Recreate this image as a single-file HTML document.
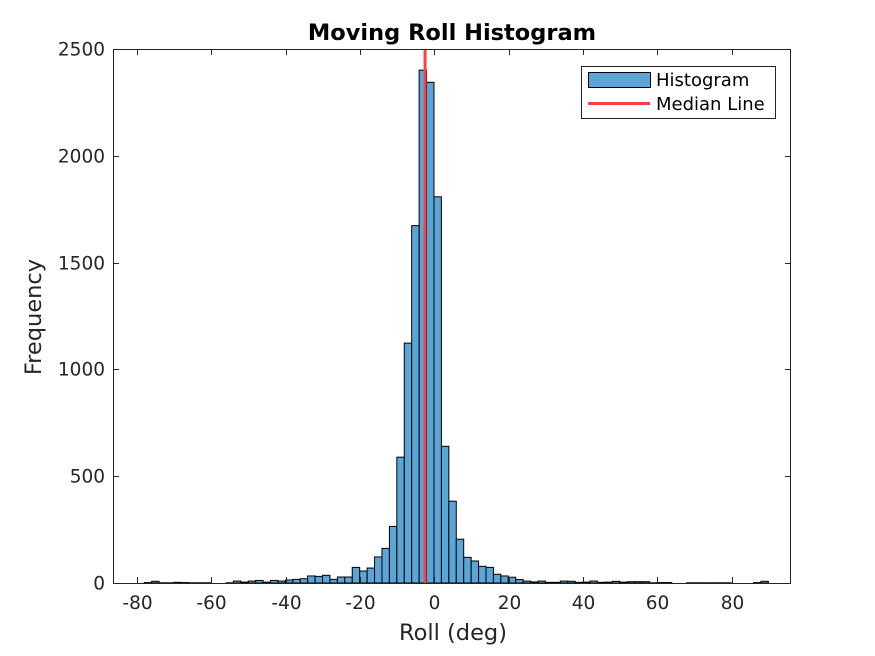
<!DOCTYPE html>
<html><head><meta charset="utf-8"><style>
body{margin:0;background:#fff;}
svg{display:block;font-family:"DejaVu Sans","Liberation Sans",sans-serif;}
</style></head><body>
<svg id="chart" width="875" height="656">
<rect width="875" height="656" fill="#fff"/>
<g id="bars"></g>
<g id="axes"></g>
<text x="452" y="40" text-anchor="middle" font-size="22.5" font-weight="bold" fill="#000">Moving Roll Histogram</text>
<text x="453" y="640" text-anchor="middle" font-size="22.5" fill="#262626">Roll (deg)</text>
<text transform="translate(41,317) rotate(-90)" text-anchor="middle" font-size="22.5" fill="#262626">Frequency</text>
<g>
<rect x="581.5" y="66.5" width="194" height="52" fill="#fff" stroke="#262626" stroke-width="1"/>
<rect x="588.5" y="72.5" width="62" height="15" fill="#5ba6d6" stroke="#000"/>
<text x="656" y="86" font-size="18" fill="#000">Histogram</text>
<line x1="588" y1="103.5" x2="650" y2="103.5" stroke="#ff4040" stroke-width="3"/>
<text x="656" y="110" font-size="18" fill="#000">Median Line</text>
</g>
</svg>
<script>
const binStart = -78.1;
const binWidth = 2;
const counts = [2,8,1,1,3,2,1,1,1,0,0,1,9,4,9,12,4,12,9,14,17,20,33,31,36,17,28,28,73,56,70,122,162,265,589,1123,1673,2401,2344,1808,640,383,205,120,103,78,73,41,33,27,16,9,5,9,3,3,9,8,3,4,9,3,4,8,4,6,6,6,1,2,2,0,0,1,1,1,1,1,1,0,0,0,2,8];
const medianValue = -2.5;
const xTicks = [-80,-60,-40,-20,0,20,40,60,80];
const yTicks = [0,500,1000,1500,2000,2500];
const L=113,R=791,T=49,B=583;
const xMin=-86.5,xMax=96,yMax=2500;
const xs=v=>L+(v-xMin)/(xMax-xMin)*(R-L);
const ys=v=>B-v/yMax*(B-T);
const NS="http://www.w3.org/2000/svg";
const bars=document.getElementById('bars');
counts.forEach((c,i)=>{
  const x0=xs(binStart+i*binWidth),x1=xs(binStart+(i+1)*binWidth);
  const r=document.createElementNS(NS,'rect');
  r.setAttribute('x',x0);r.setAttribute('width',x1-x0);
  r.setAttribute('y',ys(c));r.setAttribute('height',B-ys(c));
  r.setAttribute('fill','#5ba6d6');r.setAttribute('stroke','#000');r.setAttribute('stroke-width','1');
  
  
  bars.appendChild(r);
});
const ax=document.getElementById('axes');
function ln(x1,y1,x2,y2,col,w,name){const l=document.createElementNS(NS,'line');
 l.setAttribute('x1',x1);l.setAttribute('y1',y1);l.setAttribute('x2',x2);l.setAttribute('y2',y2);
 l.setAttribute('stroke',col);l.setAttribute('stroke-width',w);
 
 
 ax.appendChild(l);return l;}
function tx(x,y,s,anchor,name){const t=document.createElementNS(NS,'text');
 t.setAttribute('x',x);t.setAttribute('y',y);t.setAttribute('text-anchor',anchor);
 t.setAttribute('font-size','18.5');t.setAttribute('fill','#262626');t.textContent=s;
 
 
 ax.appendChild(t);}
const mx=xs(medianValue);
ln(mx,T,mx,B,'#ff4040',3,'median-line');
const frame=document.createElementNS(NS,'rect');
frame.setAttribute('x',L+0.5);frame.setAttribute('y',T+0.5);frame.setAttribute('width',R-L-1);frame.setAttribute('height',B-T);
frame.setAttribute('fill','none');frame.setAttribute('stroke','#262626');


ax.appendChild(frame);
xTicks.forEach(v=>{const x=Math.round(xs(v))+0.5;
 ln(x,B,x,B-6,'#262626',1,'x-tick');ln(x,T,x,T+6,'#262626',1,'x-tick-top');
 tx(x,609,String(v),'middle','x-tick-label');});
yTicks.forEach(v=>{const y=Math.round(ys(v))+0.5;
 ln(L,y,L+6,y,'#262626',1,'y-tick');ln(R,y,R-6,y,'#262626',1,'y-tick-right');
 tx(L-8,y+6,String(v),'end','y-tick-label');});
</script>
</body></html>
